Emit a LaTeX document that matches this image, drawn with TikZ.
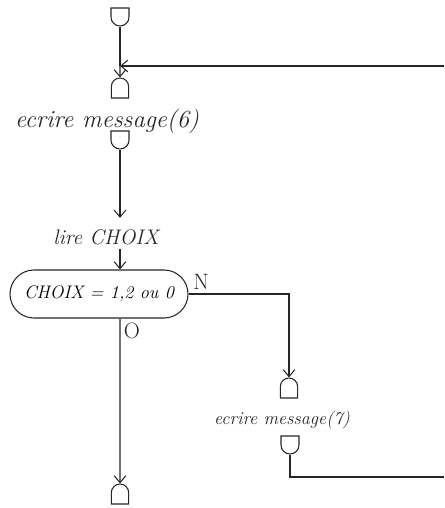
\documentclass[tikz,border=0pt]{standalone}
\usepackage{fontspec}
\usepackage{tikz}
\usetikzlibrary{arrows.meta, positioning, shapes.misc}

\begin{document}
\begin{tikzpicture}[
    x=0.03cm, y=-0.03cm,
    line width=0.9pt,
    >={Straight Barb[length=6pt, width=10pt]},
    ink/.style={draw=black!85},
    hand/.style={font=\fontsize{18}{22}\selectfont\itshape, text=black!85},
    outcup/.style={ink, rounded rectangle, rounded rectangle east arc=none, rotate=90, inner sep=0pt, minimum width=0.5cm, minimum height=0.54cm},
    incup/.style={ink, rounded rectangle, rounded rectangle west arc=none, rotate=90, inner sep=0pt, minimum width=0.6cm, minimum height=0.52cm},
    testbox/.style={ink, rounded rectangle, inner sep=0pt, minimum width=5.34cm, minimum height=1.44cm, font=\fontsize{15.5}{18}\selectfont\itshape},
    branch/.style={font=\fontsize{19}{22}\selectfont, text=black!85}
]
    \useasboundingbox (0,0) rectangle (444,508);

    % 1. START AND FIRST MESSAGE
    \node[outcup] (start) at (120, 17) {};
    \coordinate (j6) at (120, 66);
    \coordinate (ret6) at (444, 66);
    \node[incup] (in6) at (120, 88) {};
    \node[hand, font=\fontsize{21}{25}\selectfont\itshape] (msg6) at (107, 121) {ecrire message(6)};
    \node[outcup] (out6) at (120, 140) {};

    \draw[ink] (start) -- (j6);
    \draw[ink, ->] (j6) -- (in6);
    \draw[ink, ->] (ret6) -- (j6);

    % 2. READ THE CHOICE
    \node[hand] (lire) at (106, 237) {lire CHOIX};
    \draw[ink, ->, shorten >=6pt] (out6) -- (lire.north -| out6);

    \node[testbox] (choix) at (99, 294) {CHOIX = 1,2 ou 0};
    \draw[ink, ->] (lire.south -| out6) -- (choix.north -| out6);

    % 3. BRANCH N (second message)
    \node[branch] (lblN) at (201, 282) {N};
    \node[incup] (in7) at (289, 388) {};
    \node[hand, font=\fontsize{15.5}{19}\selectfont\itshape] (msg7) at (282, 420) {ecrire message(7)};
    \node[outcup] (out7) at (290, 445) {};
    \coordinate (ret7) at (444, 477);

    \draw[ink, ->] (choix.east) -| (in7);
    \draw[ink] (out7) |- (ret7);

    % 4. BRANCH O (end)
    \node[branch] (lblO) at (132, 331) {O};
    \node[incup] (fin) at (120, 494) {};
    \draw[ink, ->] (choix.south -| fin) -- (fin);

\end{tikzpicture}
\end{document}
